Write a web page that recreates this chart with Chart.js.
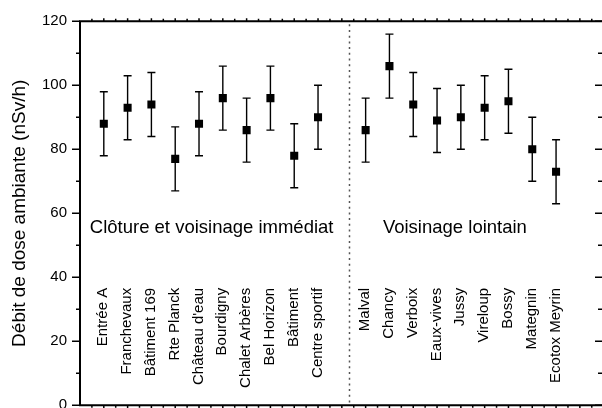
<!DOCTYPE html>
<html>
<head>
<meta charset="utf-8">
<script src="https://cdn.jsdelivr.net/npm/chart.js@4/dist/chart.umd.min.js"></script>
<style>
  html, body { margin: 0; padding: 0; background: #fff; }
  #wrap { width: 602px; height: 408px; }
</style>
</head>
<body>
<div id="wrap"><canvas id="c" width="602" height="408"></canvas></div>
<script>
// Measurement sites near the facility (fence and immediate surroundings)
const nearSites = ['Entrée A', 'Franchevaux', 'Bâtiment 169', 'Rte Planck', "Château d'eau",
                   'Bourdigny', 'Chalet Arbères', 'Bel Horizon', 'Bâtiment', 'Centre sportif'];
const nearDose  = [88, 93, 94, 77, 88, 96, 86, 96, 78, 90];

// Measurement sites further away
const farSites = ['Malval', 'Chancy', 'Verboix', 'Eaux-vives', 'Jussy',
                  'Vireloup', 'Bossy', 'Mategnin', 'Ecotox Meyrin'];
const farDose  = [86, 106, 94, 89, 90, 93, 95, 80, 73];

// Uncertainty (±) on each ambient dose value, nSv/h
const nearErr = [10, 10, 10, 10, 10, 10, 10, 10, 10, 10];
const farErr  = [10, 10, 10, 10, 10, 10, 10, 10, 10];

const groupTitles = ['Clôture et voisinage immédiat', 'Voisinage lointain'];
const yTickValues = [0, 20, 40, 60, 80, 100, 120];
const yTitle = 'Débit de dose ambiante (nSv/h)';

const FONT = "'Liberation Sans', Arial, sans-serif";

// slot positions on the category axis
const nearX = nearSites.map((_, i) => i + 1);
const farX  = farSites.map((_, i) => i + 12);
const dividerX = 11.3;

const nearPts = nearDose.map((v, i) => ({ x: nearX[i], y: v, e: nearErr[i], label: nearSites[i] }));
const farPts  = farDose.map((v, i) => ({ x: farX[i], y: v, e: farErr[i], label: farSites[i] }));

// error bars, drawn under the markers
const errorBars = {
  id: 'errorBars',
  beforeDatasetsDraw(chart) {
    const { ctx, scales: { x, y } } = chart;
    ctx.save();
    ctx.strokeStyle = '#000';
    ctx.lineWidth = 1.4;
    chart.data.datasets.forEach(ds => {
      ds.data.forEach(p => {
        const px = x.getPixelForValue(p.x);
        const top = y.getPixelForValue(p.y + p.e);
        const bot = y.getPixelForValue(p.y - p.e);
        ctx.beginPath();
        ctx.moveTo(px, top); ctx.lineTo(px, bot);
        ctx.moveTo(px - 4, top); ctx.lineTo(px + 4, top);
        ctx.moveTo(px - 4, bot); ctx.lineTo(px + 4, bot);
        ctx.stroke();
      });
    });
    ctx.restore();
  }
};

// box frame, tick marks, divider and text annotations
const frame = {
  id: 'frame',
  beforeDatasetsDraw(chart) {
    const { ctx, chartArea: a, scales: { x, y } } = chart;
    ctx.save();

    // dotted divider between the two groups
    ctx.strokeStyle = '#555';
    ctx.lineWidth = 1.5;
    ctx.setLineDash([2, 3.7]);
    const dx = Math.round(x.getPixelForValue(dividerX)) + 0.5;
    ctx.beginPath(); ctx.moveTo(dx, a.top + 3); ctx.lineTo(dx, a.bottom); ctx.stroke();
    ctx.setLineDash([]);

    ctx.strokeStyle = '#000';
    ctx.lineWidth = 2;
    ctx.beginPath();
    ctx.moveTo(a.right + 2, a.top); ctx.lineTo(a.left, a.top);
    ctx.lineTo(a.left, a.bottom); ctx.lineTo(a.right + 2, a.bottom);
    ctx.stroke();

    // y ticks: left outward, right inward
    ctx.lineWidth = 1.5;
    ctx.beginPath();
    for (let i = 0; i < yTickValues.length; i++) {
      const v = yTickValues[i];
      const py = y.getPixelForValue(v);
      ctx.moveTo(a.left - 8, py); ctx.lineTo(a.left, py);
      ctx.moveTo(a.right - 7, py); ctx.lineTo(a.right, py);
      if (i + 1 < yTickValues.length) {
        const m = y.getPixelForValue((v + yTickValues[i + 1]) / 2);
        ctx.moveTo(a.left - 4, m); ctx.lineTo(a.left, m);
        ctx.moveTo(a.right - 4, m); ctx.lineTo(a.right, m);
      }
    }
    // x ticks every half slot, outward on top and bottom
    for (let s = 0.5; s <= x.max; s += 0.5) {
      const px = x.getPixelForValue(s);
      const len = Number.isInteger(s) ? 3 : 2.5;
      ctx.moveTo(px, a.top - len); ctx.lineTo(px, a.top);
      ctx.moveTo(px, a.bottom); ctx.lineTo(px, a.bottom + len);
    }
    ctx.stroke();

    // site names, vertical
    ctx.fillStyle = '#000';
    ctx.font = `15px ${FONT}`;
    ctx.textAlign = 'right';
    ctx.textBaseline = 'middle';
    const labelTop = y.getPixelForValue(36.7);
    chart.data.datasets.forEach(ds => {
      ds.data.forEach(p => {
        ctx.save();
        ctx.translate(x.getPixelForValue(p.x) - 0.5, labelTop);
        ctx.rotate(-Math.PI / 2);
        ctx.fillText(p.label, 0, 0);
        ctx.restore();
      });
    });

    // group titles
    ctx.font = `18.5px ${FONT}`;
    ctx.textAlign = 'center';
    ctx.textBaseline = 'alphabetic';
    const gy = y.getPixelForValue(53.8);
    ctx.fillText(groupTitles[0], x.getPixelForValue(5.53), gy);
    ctx.fillText(groupTitles[1], x.getPixelForValue(15.75), gy);

    ctx.restore();
  }
};

new Chart(document.getElementById('c'), {
  type: 'scatter',
  data: {
    datasets: [
      { data: nearPts },
      { data: farPts }
    ]
  },
  options: {
    responsive: false,
    animation: false,
    devicePixelRatio: 1,
    layout: { autoPadding: false, padding: { top: 21.3, bottom: 2.7, left: 0, right: 0 } },
    elements: {
      point: { pointStyle: 'rect', radius: 5.7, hoverRadius: 5.7, backgroundColor: '#000', borderWidth: 0 }
    },
    plugins: { legend: { display: false }, tooltip: { enabled: false } },
    scales: {
      x: { type: 'linear', min: 0, max: 21.93, display: false },
      y: {
        min: 0, max: 120,
        afterBuildTicks(s) { s.ticks = yTickValues.map(v => ({ value: v })); },
        afterFit(s) { s.width = 80; s.paddingTop = 0; s.paddingBottom = 0; },
        ticks: { color: '#000', padding: 13, font: { family: FONT, size: 15 } },
        grid: { display: false, drawTicks: false },
        border: { display: false },
        title: {
          display: true, text: yTitle, color: '#000',
          font: { family: FONT, size: 19 },
          padding: { top: 8.5, bottom: 0 }
        }
      }
    }
  },
  plugins: [frame, errorBars]
});
</script>
</body>
</html>
